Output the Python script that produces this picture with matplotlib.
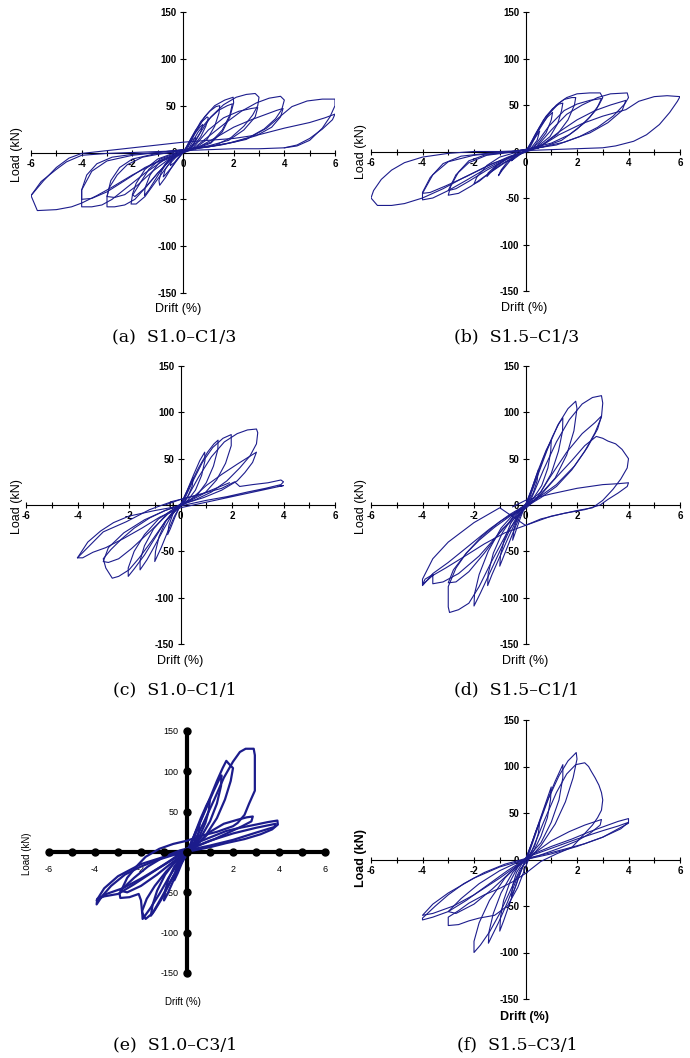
import numpy as np
import matplotlib.pyplot as plt

plt.rcParams['font.family'] = ['Liberation Sans', 'DejaVu Sans']
plt.rcParams['axes.unicode_minus'] = False

# hysteresis loops: (drift %, load kN) vertices per cycle
loops_a = [
    [(0, 0), (0.15, 6), (0.35, 13), (0.5, 16), (0.45, 10), (0.3, 5), (0.1, 1), (0, 0), (-0.15, -5), (-0.35, -11), (-0.5, -14), (-0.45, -8), (-0.3, -3), (-0.1, -1), (0, 0)],
    [(0, 0), (0.2, 9), (0.45, 20), (0.7, 28), (0.78, 30), (0.7, 22), (0.45, 10), (0.2, 3), (0, 0), (-0.2, -7), (-0.45, -16), (-0.7, -24), (-0.78, -26), (-0.7, -18), (-0.45, -8), (-0.2, -2), (0, 0)],
    [(0.05, 1), (0.25, 12), (0.5, 24), (0.75, 33), (0.95, 38), (1.0, 37), (0.9, 28), (0.7, 17), (0.45, 8), (0.2, 3), (0, 1), (-0.2, -6), (-0.45, -16), (-0.7, -27), (-0.92, -35), (-0.95, -30), (-0.85, -20), (-0.6, -9), (-0.3, -3), (0.05, 1)],
    [(0.1, 2), (0.35, 16), (0.7, 33), (1.05, 44), (1.3, 49), (1.45, 50), (1.42, 42), (1.25, 28), (0.95, 14), (0.5, 5), (0.1, 2), (-0.3, -3), (-0.7, -12), (-1.05, -27), (-1.35, -40), (-1.52, -46), (-1.5, -38), (-1.3, -24), (-0.95, -11), (-0.5, -4), (0.1, 2)],
    [(0.15, 3), (0.45, 19), (0.85, 38), (1.25, 50), (1.65, 56), (1.98, 59), (2.0, 53), (1.85, 38), (1.55, 22), (1.1, 10), (0.5, 4), (0, 2), (-0.4, -2), (-0.9, -7), (-1.35, -18), (-1.7, -33), (-2.0, -46), (-2.05, -55), (-1.85, -55), (-1.5, -47), (-1.1, -32), (-0.6, -14), (-0.2, -3), (0.15, 3)],
    [(0.2, 3), (0.6, 22), (1.0, 35), (1.4, 45), (1.75, 50), (1.95, 52), (1.85, 40), (1.55, 24), (1.1, 11), (0.5, 5), (0, 2), (-0.5, -2), (-1.0, -7), (-1.5, -18), (-1.85, -33), (-2.0, -45), (-1.9, -47), (-1.5, -38), (-1.0, -22), (-0.5, -8), (0.2, 3)],
    [(0.3, 5), (0.7, 22), (1.1, 38), (1.6, 51), (2.1, 59), (2.5, 62), (2.85, 63), (3.0, 59), (2.95, 50), (2.75, 40), (2.4, 28), (1.9, 16), (1.3, 8), (0.6, 5), (0, 3), (-0.5, 0), (-1.0, -2), (-1.6, -5), (-2.2, -13), (-2.6, -24), (-2.9, -37), (-3.0, -47), (-3.0, -58), (-2.7, -58), (-2.3, -56), (-1.9, -50), (-1.5, -38), (-1.0, -22), (-0.5, -8), (0.3, 5)],
    [(0.4, 5), (1.0, 24), (1.6, 37), (2.2, 44), (2.7, 47), (2.95, 48), (2.85, 38), (2.4, 24), (1.8, 13), (1.0, 7), (0.4, 4), (-0.5, 0), (-1.2, -2), (-2.0, -7), (-2.5, -16), (-2.85, -30), (-3.0, -47), (-2.7, -48), (-2.3, -45), (-1.8, -35), (-1.2, -20), (-0.5, -6), (0.4, 5)],
    [(0.4, 4), (1.0, 17), (1.7, 32), (2.3, 44), (2.9, 53), (3.4, 58), (3.85, 60), (4.0, 56), (3.9, 46), (3.65, 36), (3.2, 25), (2.6, 16), (1.8, 10), (1.0, 6), (0, 3), (-1.0, 0), (-2.0, -2), (-2.8, -5), (-3.4, -12), (-3.8, -24), (-4.0, -40), (-4.0, -58), (-3.6, -58), (-3.2, -56), (-2.8, -50), (-2.2, -37), (-1.5, -22), (-0.8, -9), (0.4, 4)],
    [(0.5, 4), (1.3, 16), (2.0, 27), (2.7, 35), (3.3, 41), (3.7, 45), (3.95, 47), (3.85, 38), (3.5, 27), (2.9, 18), (2.0, 11), (1.0, 6), (0, 3), (-1.0, 0), (-2.0, -3), (-3.0, -9), (-3.6, -20), (-4.0, -40), (-4.0, -50), (-3.6, -49), (-3.0, -42), (-2.3, -30), (-1.5, -16), (-0.7, -6), (0.5, 4)],
    [(0.5, 4), (1.5, 8), (2.5, 14), (3.3, 26), (3.9, 40), (4.3, 49), (4.9, 55), (5.5, 57), (6.0, 57), (6.0, 50), (5.8, 38), (5.5, 26), (5.0, 13), (4.5, 7), (4.0, 5), (3.0, 4), (2.0, 4), (1.0, 3), (0, 2), (-1.0, 1), (-2.0, 0), (-3.0, -1), (-4.0, -3), (-4.6, -10), (-5.0, -18), (-5.6, -31), (-6.0, -46), (-5.75, -62), (-5.0, -61), (-4.4, -58), (-4.0, -54), (-3.4, -46), (-2.8, -37), (-2.0, -24), (-1.0, -10), (0, 0)],
    [(-6.0, -46), (-5.5, -30), (-5.0, -16), (-4.5, -6), (-4.0, -1), (-3.0, 2), (-2.0, 5), (-1.0, 8), (0, 11), (1.0, 13), (2.0, 15), (3.0, 19), (4.0, 26), (5.0, 32), (5.6, 37), (6.0, 41), (5.9, 35), (5.5, 25), (5.0, 15), (4.5, 8), (4.0, 5)],
]

loops_b = [
    [(0, 0), (0.2, 8), (0.45, 18), (0.55, 22), (0.45, 12), (0.2, 3), (0, 0), (-0.2, -3), (-0.45, -8), (-0.55, -10), (-0.4, -5), (-0.15, -1), (0, 0)],
    [(0, 0), (0.25, 11), (0.55, 26), (0.85, 37), (1.05, 42), (1.0, 34), (0.8, 20), (0.5, 9), (0.2, 2), (0, 0), (-0.3, -4), (-0.6, -10), (-0.9, -20), (-1.05, -26), (-0.95, -20), (-0.7, -11), (-0.35, -4), (0, 0)],
    [(0.05, 1), (0.35, 17), (0.7, 34), (1.05, 46), (1.3, 51), (1.45, 52), (1.4, 44), (1.25, 30), (0.95, 16), (0.5, 6), (0.1, 1), (-0.4, -3), (-0.8, -9), (-1.2, -18), (-1.5, -27), (-1.45, -23), (-1.1, -14), (-0.6, -6), (0.05, 1)],
    [(0.1, 2), (0.4, 19), (0.8, 38), (1.2, 50), (1.5, 56), (1.8, 58), (1.95, 58), (1.9, 50), (1.65, 34), (1.25, 19), (0.7, 8), (0.2, 3), (-0.5, -2), (-1.0, -6), (-1.5, -15), (-1.9, -28), (-2.0, -35), (-1.8, -32), (-1.4, -23), (-0.9, -13), (-0.4, -5), (0.1, 2)],
    [(0.15, 3), (0.5, 22), (0.9, 40), (1.3, 52), (1.6, 58), (2.0, 62), (2.5, 63), (2.9, 63), (3.0, 58), (2.85, 50), (2.5, 37), (2.0, 24), (1.4, 12), (0.7, 5), (0, 2), (-0.8, -1), (-1.6, -4), (-2.2, -10), (-2.6, -22), (-2.9, -37), (-3.0, -47), (-2.6, -45), (-2.1, -37), (-1.5, -25), (-0.8, -12), (0.15, 3)],
    [(0.3, 4), (0.9, 27), (1.5, 44), (2.0, 51), (2.5, 55), (2.95, 57), (2.75, 45), (2.3, 31), (1.7, 18), (1.0, 9), (0.3, 4), (-0.6, -1), (-1.5, -4), (-2.2, -12), (-2.7, -25), (-3.0, -42), (-2.7, -40), (-2.2, -32), (-1.5, -20), (-0.7, -8), (0.3, 4)],
    [(0.4, 4), (1.0, 23), (1.6, 40), (2.2, 50), (2.8, 58), (3.3, 62), (3.95, 63), (4.0, 58), (3.85, 51), (3.4, 38), (2.8, 26), (2.1, 16), (1.2, 7), (0.5, 4), (-0.5, 0), (-1.5, -2), (-2.5, -5), (-3.2, -13), (-3.7, -28), (-4.0, -44), (-4.0, -52), (-3.6, -50), (-3.0, -42), (-2.3, -31), (-1.5, -18), (-0.7, -7), (0.4, 4)],
    [(0.5, 4), (1.3, 21), (2.0, 34), (2.7, 44), (3.3, 50), (3.9, 55), (3.75, 44), (3.2, 31), (2.5, 20), (1.5, 10), (0.5, 4), (-0.8, -1), (-2.0, -4), (-3.0, -11), (-3.6, -25), (-4.0, -45), (-3.7, -44), (-3.1, -37), (-2.3, -27), (-1.3, -13), (0.5, 4)],
    [(0.5, 4), (1.3, 18), (2.2, 30), (3.0, 38), (3.9, 45), (4.4, 54), (5.0, 59), (5.5, 60), (6.0, 59), (5.9, 54), (5.6, 42), (5.2, 29), (4.7, 18), (4.2, 11), (3.5, 6), (3.0, 4), (2.0, 3), (1.0, 2), (0, 1), (-1.0, 0), (-2.0, 0), (-3.0, -2), (-4.0, -6), (-4.7, -12), (-5.2, -20), (-5.6, -30), (-5.9, -42), (-6.0, -50), (-5.75, -58), (-5.2, -58), (-4.7, -56), (-4.0, -50), (-3.2, -40), (-2.4, -28), (-1.5, -16), (-0.6, -5), (0, 0)],
]

loops_c = [
    [(0, 0), (0.2, 12), (0.4, 24), (0.5, 30), (0.45, 20), (0.3, 10), (0.1, 2), (0, 0), (-0.2, -12), (-0.4, -26), (-0.5, -32), (-0.45, -22), (-0.3, -10), (-0.1, -2), (0, 0)],
    [(0, 0), (0.25, 15), (0.5, 32), (0.75, 48), (0.94, 57), (0.95, 48), (0.82, 32), (0.58, 16), (0.25, 4), (0, 0), (-0.25, -13), (-0.5, -29), (-0.75, -46), (-1.0, -61), (-0.97, -50), (-0.83, -34), (-0.58, -18), (-0.25, -6), (0, 0)],
    [(0.05, 2), (0.35, 20), (0.7, 40), (1.05, 57), (1.3, 66), (1.46, 70), (1.45, 60), (1.28, 42), (1.0, 24), (0.6, 9), (0.1, 2), (-0.3, -9), (-0.65, -26), (-1.0, -44), (-1.3, -59), (-1.57, -70), (-1.57, -60), (-1.4, -44), (-1.05, -26), (-0.55, -10), (0.05, 2)],
    [(0.1, 3), (0.45, 24), (0.85, 46), (1.25, 62), (1.65, 72), (1.97, 76), (1.97, 64), (1.75, 45), (1.4, 27), (0.95, 13), (0.4, 5), (-0.2, -4), (-0.6, -18), (-1.0, -36), (-1.4, -54), (-1.8, -69), (-2.03, -77), (-2.03, -68), (-1.8, -50), (-1.4, -32), (-0.85, -15), (-0.3, -5), (0.1, 3)],
    [(0.2, 5), (0.7, 30), (1.2, 52), (1.7, 68), (2.2, 77), (2.6, 81), (2.95, 82), (3.0, 78), (2.95, 66), (2.7, 53), (2.3, 40), (1.8, 26), (1.2, 14), (0.6, 6), (0, 0), (-0.6, -6), (-1.2, -14), (-1.8, -25), (-2.3, -37), (-2.7, -48), (-3.0, -58), (-2.9, -68), (-2.65, -79), (-2.4, -77), (-2.0, -70), (-1.6, -57), (-1.1, -38), (-0.6, -18), (0.2, 5)],
    [(0.4, 6), (1.0, 21), (1.6, 33), (2.2, 44), (2.6, 51), (2.95, 57), (2.8, 46), (2.5, 35), (2.2, 26), (1.6, 16), (0.9, 8), (0.2, 2), (-0.6, -6), (-1.4, -16), (-2.2, -30), (-2.8, -46), (-3.0, -61), (-2.8, -62), (-2.4, -58), (-1.9, -47), (-1.2, -29), (-0.5, -10), (0.4, 6)],
    [(-0.6, 0), (0, 6), (0.8, 12), (1.6, 18), (2.1, 25), (2.3, 20), (2.8, 22), (3.4, 24), (3.9, 27), (4.0, 25), (3.9, 22), (3.3, 18), (2.6, 14), (1.8, 9), (1.0, 5), (0, -1), (-1.0, -6), (-2.0, -12), (-2.6, -19), (-3.1, -28), (-3.6, -40), (-4.0, -57), (-3.8, -57), (-3.4, -51), (-2.9, -46), (-2.2, -36), (-1.5, -25), (-0.8, -13), (0, -3), (1.0, 3), (2.0, 9), (3.0, 15), (4.0, 21), (3.8, 20)],
    [(-4.0, -57), (-3.0, -29), (-2.1, -18), (-1.2, -5), (-0.3, 4), (0.75, 11), (1.9, 24)],
]

loops_d = [
    [(0, 0), (0.2, 14), (0.4, 30), (0.5, 38), (0.45, 26), (0.3, 13), (0.1, 3), (0, 0), (-0.2, -14), (-0.4, -30), (-0.5, -38), (-0.45, -26), (-0.3, -13), (-0.1, -3), (0, 0)],
    [(0, 0), (0.25, 18), (0.5, 38), (0.8, 59), (1.0, 70), (0.98, 58), (0.87, 40), (0.63, 21), (0.3, 7), (0, 0), (-0.25, -14), (-0.5, -31), (-0.8, -52), (-1.0, -66), (-0.97, -54), (-0.83, -38), (-0.58, -20), (-0.25, -7), (0, 0)],
    [(0.05, 2), (0.35, 24), (0.7, 51), (1.05, 74), (1.3, 88), (1.45, 94), (1.44, 80), (1.28, 58), (1.0, 34), (0.6, 14), (0.1, 3), (-0.3, -13), (-0.65, -34), (-1.0, -56), (-1.3, -75), (-1.47, -87), (-1.45, -74), (-1.25, -52), (-0.9, -30), (-0.45, -11), (0.05, 2)],
    [(0.1, 3), (0.45, 30), (0.85, 60), (1.25, 86), (1.65, 104), (1.95, 112), (2.0, 104), (1.88, 80), (1.6, 54), (1.15, 29), (0.5, 9), (-0.2, -6), (-0.6, -26), (-1.0, -50), (-1.4, -74), (-1.75, -95), (-2.0, -109), (-1.98, -96), (-1.8, -75), (-1.45, -50), (-0.95, -25), (-0.4, -8), (0.1, 3)],
    [(0.2, 5), (0.7, 38), (1.2, 68), (1.7, 92), (2.2, 109), (2.6, 116), (2.95, 118), (3.0, 110), (2.95, 95), (2.7, 78), (2.3, 58), (1.8, 38), (1.2, 20), (0.6, 8), (0, -2), (-0.6, -12), (-1.2, -24), (-1.8, -38), (-2.3, -52), (-2.7, -68), (-3.0, -88), (-3.0, -110), (-2.95, -116), (-2.6, -113), (-2.2, -106), (-1.8, -88), (-1.3, -60), (-0.7, -29), (0.2, 5)],
    [(0.4, 6), (1.0, 32), (1.6, 57), (2.2, 77), (2.7, 89), (2.95, 96), (2.8, 82), (2.4, 62), (1.9, 42), (1.2, 22), (0.5, 8), (-0.3, -6), (-1.0, -18), (-1.7, -34), (-2.3, -52), (-2.8, -70), (-3.0, -84), (-2.7, -83), (-2.2, -72), (-1.6, -52), (-0.9, -26), (0.4, 6)],
    [(0.5, 8), (1.2, 30), (1.8, 48), (2.3, 64), (2.75, 74), (3.0, 72), (3.2, 69), (3.5, 66), (3.75, 60), (4.0, 50), (3.95, 40), (3.7, 28), (3.4, 17), (3.0, 5), (2.6, -3), (2.0, -6), (1.0, -12), (0, -22), (-1.0, -3), (-2.0, -19), (-3.0, -40), (-3.6, -58), (-4.0, -80), (-4.0, -87), (-3.6, -74), (-3.0, -62), (-2.2, -44), (-1.4, -26), (-0.6, -10), (0.5, 8)],
    [(-0.5, -2), (0, 5), (1.0, 12), (2.0, 18), (3.0, 22), (3.6, 23), (4.0, 24), (3.95, 20), (3.6, 13), (3.2, 6), (2.9, 0), (2.3, -5), (1.5, -9), (0.6, -15), (0, -22), (-0.8, -30), (-1.6, -42), (-2.4, -56), (-3.1, -68), (-3.6, -76), (-4.0, -86), (-3.9, -80), (-3.6, -75), (-3.6, -85), (-3.2, -83), (-2.6, -74), (-1.8, -55), (-1.0, -30), (-0.3, -8), (0.3, 5)],
]

loops_e = [
    [(0, 0), (0.2, 12), (0.4, 26), (0.55, 35), (0.5, 24), (0.35, 12), (0.1, 2), (0, 0), (-0.2, -12), (-0.4, -26), (-0.55, -35), (-0.5, -24), (-0.35, -12), (-0.1, -2), (0, 0)],
    [(0, 0), (0.3, 20), (0.6, 42), (0.85, 58), (1.0, 66), (0.95, 52), (0.8, 36), (0.55, 20), (0.25, 6), (0, 0), (-0.3, -16), (-0.6, -36), (-0.85, -52), (-1.0, -60), (-0.95, -48), (-0.8, -33), (-0.55, -18), (-0.25, -6), (0, 0)],
    [(0.05, 2), (0.4, 26), (0.8, 52), (1.15, 75), (1.4, 90), (1.5, 95), (1.48, 82), (1.3, 60), (1.0, 38), (0.6, 18), (0.1, 3), (-0.3, -14), (-0.7, -36), (-1.1, -58), (-1.4, -72), (-1.57, -79), (-1.5, -66), (-1.3, -48), (-0.95, -28), (-0.5, -11), (0.05, 2)],
    [(0.1, 4), (0.5, 32), (0.9, 60), (1.3, 88), (1.55, 104), (1.71, 113), (1.8, 110), (2.0, 104), (1.9, 88), (1.65, 65), (1.3, 42), (0.8, 20), (0.3, 6), (-0.3, -10), (-0.8, -32), (-1.2, -52), (-1.6, -70), (-1.93, -83), (-1.95, -73), (-1.75, -58), (-1.4, -42), (-0.9, -24), (-0.4, -9), (0.1, 4)],
    [(0.2, 6), (0.7, 35), (1.2, 66), (1.6, 92), (2.0, 112), (2.3, 124), (2.55, 128), (2.9, 128), (2.95, 120), (2.95, 76), (2.7, 60), (2.5, 46), (2.2, 36), (2.0, 32), (1.3, 25), (0.6, 20), (0, 14), (-0.6, 10), (-1.2, 4), (-1.8, -6), (-2.2, -18), (-2.6, -32), (-2.93, -52), (-2.9, -57), (-2.5, -56), (-2.1, -52), (-2.0, -60), (-1.95, -75), (-1.8, -83), (-1.5, -76), (-1.1, -56), (-0.6, -30), (0.2, 6)],
    [(0.4, 8), (1.0, 25), (1.6, 35), (2.2, 40), (2.6, 43), (2.86, 44), (2.8, 38), (2.4, 32), (1.8, 24), (1.2, 16), (0.5, 8), (-0.3, 2), (-1.0, -6), (-1.7, -18), (-2.3, -32), (-2.9, -48), (-2.6, -50), (-2.0, -42), (-1.3, -28), (-0.6, -12), (0.4, 8)],
    [(0.3, 10), (1.0, 18), (1.7, 26), (2.3, 30), (3.0, 34), (3.5, 37), (3.93, 39), (3.95, 34), (3.7, 28), (3.2, 22), (2.5, 16), (1.7, 11), (1.0, 6), (0.3, 2), (-0.5, -3), (-1.3, -10), (-2.0, -18), (-2.7, -28), (-3.3, -42), (-3.7, -55), (-3.93, -65), (-3.9, -58), (-3.6, -55), (-3.0, -52), (-2.3, -40), (-1.5, -25), (-0.7, -10), (0.3, 10)],
    [(0.2, 5), (1.0, 14), (2.0, 23), (3.0, 30), (3.86, 35), (3.8, 31), (3.0, 24), (2.0, 15), (1.0, 8), (0, 2), (-1.0, -6), (-2.0, -15), (-3.0, -30), (-3.6, -45), (-3.93, -60), (-3.5, -52), (-2.8, -45), (-2.0, -33), (-1.0, -16), (0.2, 5)],
]

loops_f = [
    [(0, 0), (0.2, 14), (0.4, 30), (0.55, 40), (0.5, 28), (0.35, 14), (0.1, 3), (0, 0), (-0.2, -14), (-0.4, -30), (-0.55, -40), (-0.5, -28), (-0.35, -14), (-0.1, -3), (0, 0)],
    [(0, 0), (0.3, 22), (0.6, 46), (0.85, 66), (1.0, 78), (0.97, 64), (0.85, 45), (0.6, 25), (0.3, 8), (0, 0), (-0.3, -22), (-0.6, -46), (-0.85, -66), (-1.0, -77), (-0.97, -62), (-0.85, -44), (-0.6, -24), (-0.3, -8), (0, 0)],
    [(0.05, 2), (0.4, 30), (0.8, 60), (1.15, 84), (1.35, 96), (1.45, 102), (1.45, 88), (1.3, 64), (1.0, 40), (0.6, 18), (0.1, 3), (-0.3, -18), (-0.7, -46), (-1.05, -68), (-1.3, -82), (-1.44, -90), (-1.42, -78), (-1.25, -58), (-0.95, -36), (-0.5, -14), (0.05, 2)],
    [(0.1, 4), (0.5, 36), (0.9, 66), (1.3, 90), (1.65, 106), (1.97, 115), (2.0, 108), (1.85, 88), (1.55, 62), (1.15, 38), (0.6, 15), (-0.2, -10), (-0.6, -34), (-1.0, -58), (-1.4, -78), (-1.75, -92), (-2.0, -100), (-2.0, -88), (-1.8, -68), (-1.4, -44), (-0.8, -20), (-0.3, -6), (0.1, 4)],
    [(0.2, 6), (0.7, 40), (1.2, 72), (1.6, 92), (1.95, 102), (2.3, 104), (2.45, 100), (2.55, 95), (2.7, 88), (2.85, 80), (2.95, 72), (3.0, 64), (2.95, 53), (2.8, 45), (2.6, 37), (2.2, 25), (1.8, 13), (1.2, 6), (0.6, -2), (0, -15), (-0.5, -24), (-1.0, -31), (-1.6, -38), (-2.2, -47), (-2.6, -55), (-3.0, -62), (-3.0, -71), (-2.6, -70), (-2.2, -66), (-1.8, -63), (-1.2, -60), (-0.7, -50), (-0.3, -30), (0.2, 6)],
    [(0.3, 6), (1.0, 20), (1.7, 30), (2.3, 37), (2.95, 43), (2.9, 37), (2.5, 28), (2.0, 20), (1.3, 12), (0.5, 4), (-0.3, -3), (-1.0, -12), (-1.8, -26), (-2.5, -42), (-3.0, -56), (-2.7, -58), (-2.0, -48), (-1.3, -32), (-0.6, -14), (0.3, 6)],
    [(0.3, 6), (1.0, 14), (1.8, 22), (2.5, 30), (3.2, 37), (3.6, 41), (4.0, 44), (4.0, 39), (3.6, 33), (3.0, 24), (2.3, 17), (1.5, 11), (0.8, 6), (0, 1), (-0.8, -5), (-1.6, -14), (-2.4, -26), (-3.0, -38), (-3.5, -50), (-4.0, -63), (-4.0, -65), (-3.6, -62), (-3.0, -56), (-2.3, -44), (-1.5, -28), (-0.7, -12), (0.3, 6)],
    [(0.2, 4), (1.0, 12), (2.0, 22), (3.0, 31), (3.6, 36), (4.0, 40), (3.7, 33), (3.0, 24), (2.0, 14), (1.0, 6), (0, 0), (-1.0, -8), (-2.0, -20), (-3.0, -36), (-3.6, -48), (-4.0, -60), (-3.6, -58), (-2.8, -50), (-2.0, -38), (-1.0, -20), (0.2, 4)],
]

captions = ['(a)  S1.0\u2013C1/3', '(b)  S1.5\u2013C1/3', '(c)  S1.0\u2013C1/1',
            '(d)  S1.5\u2013C1/1', '(e)  S1.0\u2013C3/1', '(f)  S1.5\u2013C3/1']
all_loops = [loops_a, loops_b, loops_c, loops_d, loops_e, loops_f]

W, H = 690, 1058
NAVY = '#1c1c8c'

# pixel boxes of the -6..6 / -150..150 range for each panel: x0, x1, ytop, ybot
boxes = [(31, 335, 12, 293), (371, 680, 12, 291),
         (26, 335, 366, 644), (371, 680, 366, 644),
         (49, 325, 731, 973), (371, 680, 720, 999)]
# label positions (pixels): drift label, load label, caption
drift_pos = [(178, 309), (524, 308), (180, 661), (525, 661), (183, 1002), (524, 1017)]
load_pos = [(17, 155), (361, 152), (17, 507), (361, 507), (27, 854), (361, 858)]
cap_pos = [(174, 337), (517, 337), (175, 690), (517, 690), (175, 1045), (517, 1045)]

fig = plt.figure(figsize=(W / 100, H / 100), dpi=100)

for i, (loops, box) in enumerate(zip(all_loops, boxes)):
    x0, x1, yt, yb = box
    ax = fig.add_axes([x0 / W, 1 - yb / H, (x1 - x0) / W, (yb - yt) / H])
    ax.patch.set_visible(False)
    ax.set_xlim(-6, 6)
    ax.set_ylim(-150, 150)
    for s in ['top', 'right']:
        ax.spines[s].set_visible(False)
    ax.spines['left'].set_position(('data', 0))
    ax.spines['bottom'].set_position(('data', 0))
    ax.set_xticks(range(-6, 7, 2))
    ax.set_xticks(range(-6, 7), minor=True)
    ax.set_yticks(range(-150, 151, 50))
    bold_panel = (i == 4)
    lw = 1.6 if bold_panel else 0.8
    for loop in loops:
        xs, ys = zip(*loop)
        ax.plot(xs, ys, color=NAVY, lw=lw, zorder=3)
    if bold_panel:
        for s in ['left', 'bottom']:
            ax.spines[s].set_linewidth(3)
        ax.tick_params(which='both', length=0, labelsize=6.5)
        ax.tick_params(axis='x', pad=9)
        ax.tick_params(axis='y', pad=6)
        ax.plot(np.arange(-6, 7), np.zeros(13), 'o', color='black', ms=5, clip_on=False, zorder=4)
        ax.plot(np.zeros(7), np.arange(-150, 151, 50), 'o', color='black', ms=5, clip_on=False, zorder=4)
    else:
        ax.tick_params(which='both', direction='inout', length=5, width=0.8, labelsize=7, pad=2)
        for lbl in ax.get_xticklabels() + ax.get_yticklabels():
            lbl.set_fontweight('bold')

    fs = 7 if bold_panel else 9
    fw = 'bold' if i == 5 else 'normal'
    dx, dy = drift_pos[i]
    fig.text(dx / W, 1 - dy / H, 'Drift (%)', ha='center', va='center', fontsize=fs, fontweight=fw)
    lx, ly = load_pos[i]
    fig.text(lx / W, 1 - ly / H, 'Load (kN)', ha='center', va='center', rotation=90, fontsize=fs, fontweight=fw)
    cx, cy = cap_pos[i]
    fig.text(cx / W, 1 - cy / H, captions[i], ha='center', va='center', fontsize=12.5,
             family=['DejaVu Serif'])

fig.savefig('out.png', dpi=100)
